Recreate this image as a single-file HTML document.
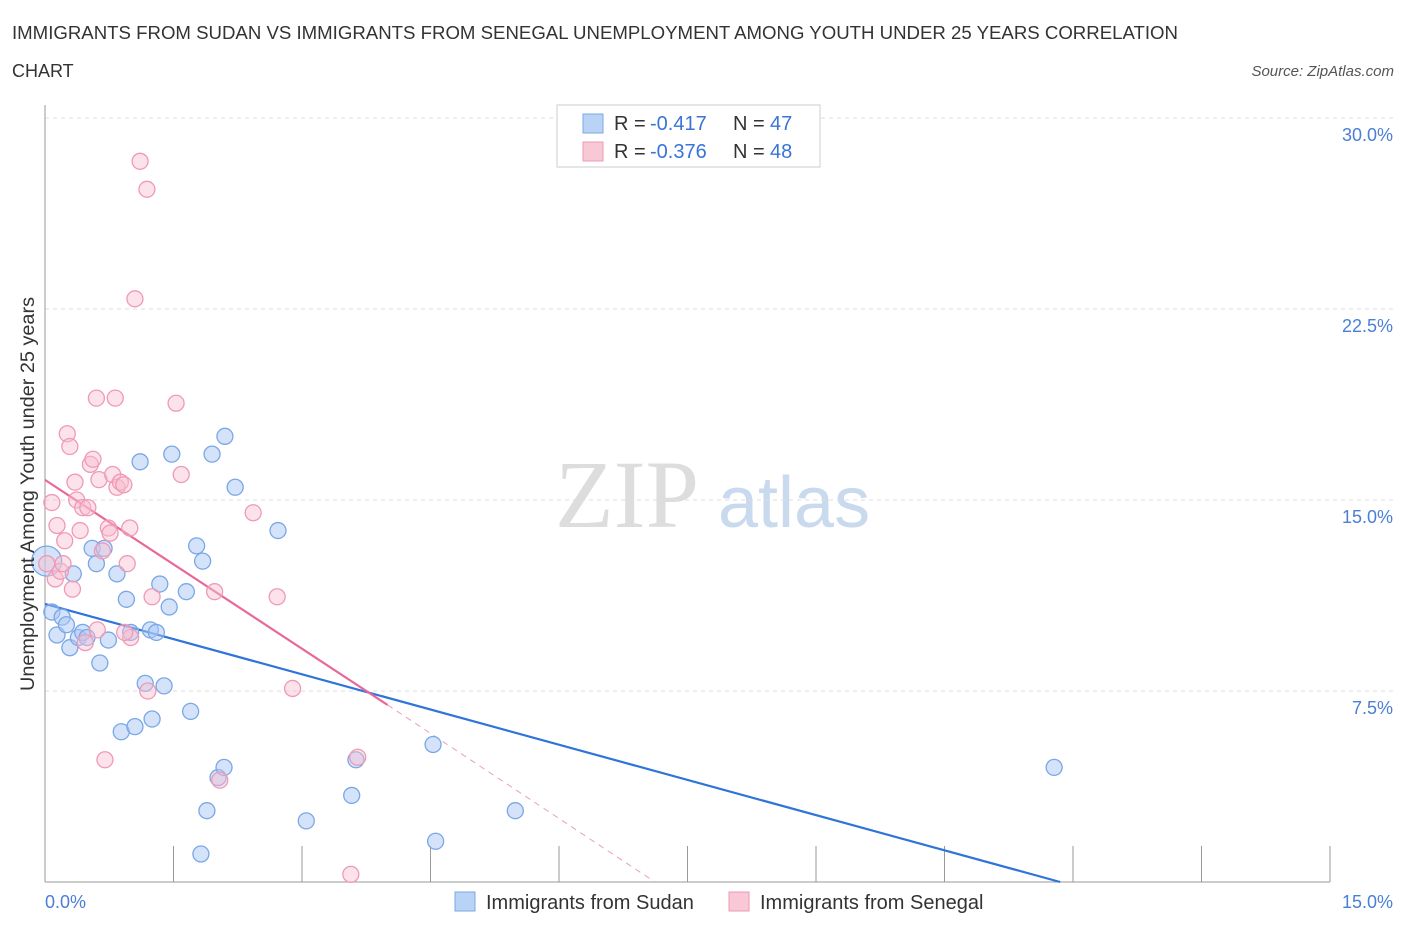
<!DOCTYPE html>
<html><head><meta charset="utf-8"><style>
body{margin:0;background:#fff;font-family:"Liberation Sans",sans-serif;}
</style></head><body>
<svg id="chart" width="1406" height="930" xmlns="http://www.w3.org/2000/svg" font-family="Liberation Sans, sans-serif">
<text x="12" y="39" font-size="18" fill="#333" textLength="1166" lengthAdjust="spacingAndGlyphs">IMMIGRANTS FROM SUDAN VS IMMIGRANTS FROM SENEGAL UNEMPLOYMENT AMONG YOUTH UNDER 25 YEARS CORRELATION</text>
<text x="12" y="77" font-size="18" fill="#333">CHART</text>
<text x="1394" y="76" font-size="15" fill="#555" font-style="italic" text-anchor="end">Source: ZipAtlas.com</text>
<text x="555" y="527" font-size="96" fill="#ddd" font-family="Liberation Serif, serif">ZIP</text>
<text x="718" y="527" font-size="72" fill="#c9d9ee">atlas</text>
<g id="grid"></g><g id="axes"></g><g id="trend"></g><g id="pts"></g>
<text transform="translate(34,494) rotate(-90)" font-size="19" fill="#333" text-anchor="middle" textLength="394" lengthAdjust="spacingAndGlyphs">Unemployment Among Youth under 25 years</text>
<text x="45" y="908" font-size="18" fill="#4a7fd6">0.0%</text>
<text x="1393" y="908" font-size="18" fill="#4a7fd6" text-anchor="end">15.0%</text>
<g>
<rect x="557" y="105" width="263" height="62" fill="#fff" stroke="#ccc"/>
<rect x="583" y="114" width="20" height="19" fill="#b9d3f6" stroke="#7aa7e6"/>
<rect x="583" y="142" width="20" height="19" fill="#f9c8d6" stroke="#ef9ab5"/>
<g font-size="20" fill="#333">
<text x="614" y="130">R =</text><text x="650" y="130" fill="#3a74d6">-0.417</text><text x="733" y="130">N =</text><text x="770" y="130" fill="#3a74d6">47</text>
<text x="614" y="158">R =</text><text x="650" y="158" fill="#3a74d6">-0.376</text><text x="733" y="158">N =</text><text x="770" y="158" fill="#3a74d6">48</text>
</g>
</g>
<g>
<rect x="455" y="892" width="20" height="19" fill="#b9d3f6" stroke="#7aa7e6"/>
<text x="486" y="909" font-size="20" fill="#333">Immigrants from Sudan</text>
<rect x="729" y="892" width="20" height="19" fill="#f9c8d6" stroke="#ef9ab5"/>
<text x="760" y="909" font-size="20" fill="#333">Immigrants from Senegal</text>
</g>
</svg>
<script>
const yTicks=[7.5,15,22.5,30];
const yTickLabels=["7.5%","15.0%","22.5%","30.0%"];
const sudanX=[0.02,0.08,0.14,0.2,0.25,0.29,0.33,0.39,0.44,0.49,0.55,0.6,0.64,0.69,0.74,0.84,0.95,1.0,1.11,1.17,1.23,1.3,1.34,1.39,1.45,1.48,1.65,1.7,1.77,1.82,1.84,1.89,1.95,2.02,2.09,2.1,2.22,2.72,3.05,3.58,3.63,4.53,4.56,5.49,11.78,0.89,1.05,1.25];
const sudanY=[12.6,10.6,9.7,10.4,10.1,9.2,12.1,9.6,9.8,9.6,13.1,12.5,8.6,13.1,9.5,12.1,11.1,9.8,16.5,7.8,9.9,9.8,11.7,7.7,10.8,16.8,11.4,6.7,13.2,1.1,12.6,2.8,16.8,4.1,4.5,17.5,15.5,13.8,2.4,3.4,4.8,5.4,1.6,2.8,4.5,5.9,6.1,6.4];
const senegalX=[0.02,0.08,0.12,0.14,0.18,0.21,0.23,0.26,0.29,0.32,0.35,0.37,0.41,0.44,0.47,0.5,0.53,0.56,0.6,0.63,0.67,0.7,0.74,0.79,0.82,0.84,0.88,0.92,0.96,0.99,1.0,1.05,1.11,1.19,1.2,1.25,1.53,1.59,1.98,2.04,2.43,2.71,2.89,3.57,3.65,0.76,0.93,0.61];
const senegalY=[12.5,14.9,11.9,14.0,12.2,12.5,13.4,17.6,17.1,11.5,15.7,15.0,13.8,14.7,9.4,14.7,16.4,16.6,19.0,15.8,13.0,4.8,13.9,16.0,19.0,15.5,15.7,15.6,12.5,13.9,9.6,22.9,28.3,27.2,7.5,11.2,18.8,16.0,11.4,4.0,14.5,11.2,7.6,0.3,4.9,13.7,9.8,9.9];
const sudanTrend=[[0,10.92],[11.85,0]];
const senegalTrendSolid=[[0,15.79],[4.0,6.95]];
const senegalTrendDash=[[4.0,6.95],[7.12,0]];
const NS="http://www.w3.org/2000/svg";
const X=v=>45+v/15*1285, Y=v=>882-v/30*764;
function mk(t,a,p){const e=document.createElementNS(NS,t);for(const k in a)e.setAttribute(k,a[k]);document.getElementById(p).appendChild(e);return e;}
yTicks.forEach((t,i)=>{
 const l=mk('line',{x1:45,x2:1395,y1:Y(t),y2:Y(t),stroke:'#ddd','stroke-dasharray':'4,4'},'grid');
 
 
 const tx=mk('text',{x:1393,y:Y(t)+23,'font-size':18,fill:'#4a7fd6','text-anchor':'end'},'grid');tx.textContent=yTickLabels[i];
 
 
});
const ax=mk('line',{x1:45,x2:1330,y1:882,y2:882,stroke:'#999'},'axes');


const ay=mk('line',{x1:45,x2:45,y1:105,y2:882,stroke:'#999'},'axes');


for(let i=0;i<=10;i++){const t=mk('line',{x1:X(i*1.5),x2:X(i*1.5),y1:846,y2:882,stroke:'#999'},'axes');
 
 }
function line(p,c,w,d,n){const l=mk('line',{x1:X(p[0][0]),y1:Y(p[0][1]),x2:X(p[1][0]),y2:Y(p[1][1]),stroke:c,'stroke-width':w},'trend');if(d)l.setAttribute('stroke-dasharray',d);
 
 }
line(sudanTrend,'#2f74d9',2.2,null,'sudan-trend-line');
line(senegalTrendSolid,'#e8689a',2.2,null,'senegal-trend-line');
line(senegalTrendDash,'#e8a0bb',1,'6,5','senegal-trend-extension');
sudanX.forEach((x,i)=>{const c=mk('circle',{cx:X(x),cy:Y(sudanY[i]),r:i==0?15:8,fill:'rgba(170,200,245,0.5)',stroke:'#7aa7e6','stroke-width':1.3},'pts');
 
 });
senegalX.forEach((x,i)=>{const c=mk('circle',{cx:X(x),cy:Y(senegalY[i]),r:8,fill:'rgba(248,190,208,0.45)',stroke:'#ef9ab5','stroke-width':1.3},'pts');
 
 });
</script>
</body></html>
